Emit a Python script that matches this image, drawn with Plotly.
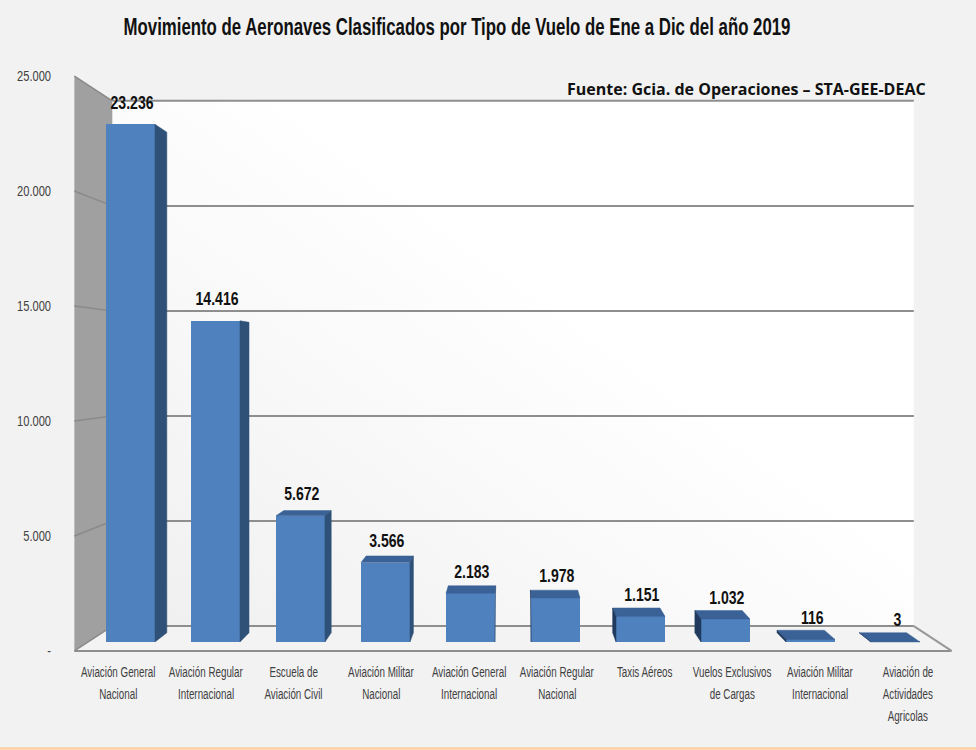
import base64
import plotly.graph_objects as go

# chart values
categories = [
    "Aviación General|Nacional", "Aviación Regular|Internacional", "Escuela de|Aviación Civil",
    "Aviación Militar|Nacional", "Aviación General|Internacional", "Aviación Regular|Nacional",
    "Taxis Aéreos", "Vuelos Exclusivos|de Cargas", "Aviación Militar|Internacional",
    "Aviación de|Actividades|Agricolas",
]
values = [23236, 14416, 5672, 3566, 2183, 1978, 1151, 1032, 116, 3]
value_labels = ["23.236", "14.416", "5.672", "3.566", "2.183", "1.978", "1.151", "1.032", "116", "3"]
tick_values = [0, 5000, 10000, 15000, 20000, 25000]
tick_labels = ["-", "5.000", "10.000", "15.000", "20.000", "25.000"]

title = "Movimiento de Aeronaves Clasificados por Tipo de Vuelo de Ene a Dic del año 2019"
source = "Fuente: Gcia. de Operaciones – STA-GEE-DEAC"

SANS = "Liberation Sans"
W, H = 976, 750
# plot rectangle in pixels
L, R, T, B = 60, 976, 60, 662
# bar plane: pixel = origin + scale * data
X0, XSTEP = 130.5, 85.0
Y0, YSCALE = 642.0, 557.0 / 25000
# vanishing point of the fake 3d, in data units of the bar plane
VX = (514 - X0) / XSTEP
VY = (Y0 - 363) / YSCALE
BAR_WIDTH = 0.576
S_BAR = 0.033
S_FRONT = -0.032
S_BACK = 0.057


def project(x, y, s):
    return x + s * (VX - x), y + s * (VY - y)


def paper_x(p):
    return (p - L) / (R - L)


def paper_y(p):
    return (B - p) / (B - T)


def line(p0, p1, color="#8e8e8e", width=2):
    return dict(type="line", xref="x", yref="y", layer="between",
                x0=p0[0], y0=p0[1], x1=p1[0], y1=p1[1],
                line=dict(color=color, width=width))


def poly(points, color):
    path = "M" + " L".join(f"{a},{b}" for a, b in points) + " Z"
    return dict(type="path", xref="x", yref="y", layer="between", path=path,
                fillcolor=color, line=dict(width=0))


XL, XR, YMAX = -0.5, 9.5, 25000
shapes = [
    dict(type="rect", xref="paper", yref="paper", layer="below",
         x0=paper_x(0), x1=paper_x(W), y0=paper_y(747), y1=paper_y(H),
         fillcolor="#fdd5b1", line=dict(width=0)),
    # side wall
    poly([project(XL, 0, S_FRONT), project(XL, YMAX, S_FRONT),
          project(XL, YMAX, S_BACK), project(XL, 0, S_BACK)], "#a0a0a0"),
    # floor
    poly([project(XL, 0, S_FRONT), project(XR, 0, S_FRONT),
          project(XR, 0, S_BACK), project(XL, 0, S_BACK)], "#f3f3f3"),
    line(project(XL, 0, S_FRONT), project(XR, 0, S_FRONT)),
    line(project(XR, 0, S_FRONT), project(XR, 0, S_BACK), color="#989898"),
]
for v in tick_values:
    shapes.append(line(project(XL, v, S_BACK), project(XR, v, S_BACK)))
    shapes.append(line(project(XL, v, S_FRONT), project(XL, v, S_BACK), color="#8a8a8a", width=1.5))

# soft gradient of the back wall
gradient = (
    '<svg xmlns="http://www.w3.org/2000/svg" width="800" height="526" preserveAspectRatio="none">'
    '<defs><linearGradient id="g" x1="0" y1="1" x2="1" y2="0.1">'
    '<stop offset="0" stop-color="#efefef"/><stop offset="0.62" stop-color="#ffffff"/>'
    '</linearGradient></defs><rect width="800" height="526" fill="url(#g)"/></svg>'
)
back_left, back_top = project(XL, YMAX, S_BACK)
back_right, back_bottom = project(XR, 0, S_BACK)
images = [dict(
    source="data:image/svg+xml;base64," + base64.b64encode(gradient.encode()).decode(),
    xref="x", yref="y", x=back_left, y=back_top,
    sizex=back_right - back_left, sizey=back_top - back_bottom,
    xanchor="left", yanchor="top", sizing="stretch", layer="below",
)]

fig = go.Figure()
positions = list(range(len(values)))
fig.add_trace(go.Bar(x=positions, y=values, width=BAR_WIDTH, marker=dict(color="#5081bf", line=dict(width=0))))


def add_face(points, color):
    xs = [p[0] for p in points] + [points[0][0]]
    ys = [p[1] for p in points] + [points[0][1]]
    fig.add_trace(go.Scatter(x=xs, y=ys, mode="lines", fill="toself", fillcolor=color,
                             line=dict(color=color, width=0.5), hoverinfo="skip"))


for x, v in zip(positions, values):
    left, right = x - BAR_WIDTH / 2, x + BAR_WIDTH / 2
    # top face only shows under the vanishing point
    if v < VY:
        add_face([(left, v), (right, v), project(right, v, S_BAR), project(left, v, S_BAR)], "#3a6296")
    if right < VX:
        add_face([(right, 0), (right, v), project(right, v, S_BAR), project(right, 0, S_BAR)], "#2f5178")
    elif left > VX:
        add_face([(left, 0), (left, v), project(left, v, S_BAR), project(left, 0, S_BAR)], "#1f3a5e")

# carries the tick labels of the front plane
fig.add_trace(go.Scatter(x=[XL] * len(tick_values), y=tick_values, yaxis="y2", mode="markers",
                         marker=dict(opacity=0), hoverinfo="skip"))

annotations = []
for x, v, text in zip(positions, values, value_labels):
    annotations.append(dict(x=x + 0.02, y=v, xref="x", yref="y", text=text, showarrow=False, yshift=22,
                            font=dict(family=SANS, size=19, weight=700, color="#111111"),
                            xanchor="center", yanchor="middle"))
for x, cat in zip(positions, categories):
    # category labels sit on the front edge of the floor
    label_x = project(x, 0, S_FRONT)[0]
    for n, part in enumerate(cat.split("|")):
        annotations.append(dict(x=label_x, y=paper_y(672 + 22 * n), xref="x", yref="paper", text=part,
                                showarrow=False, font=dict(family=SANS, size=14, color="#404040"),
                                xanchor="center", yanchor="middle"))
annotations.append(dict(x=paper_x(928), y=paper_y(89), xref="paper", yref="paper", text=source,
                        showarrow=False, font=dict(family="Open Sans", size=16, weight=700, color="#111111"),
                        xanchor="right", yanchor="middle"))

fig.update_layout(
    width=W, height=H,
    margin=dict(l=L, r=W - R, t=T, b=H - B, pad=0),
    paper_bgcolor="#f2f2f2", plot_bgcolor="rgba(0,0,0,0)",
    showlegend=False, bargap=0,
    title=dict(text=title, x=457 / W, y=1 - 27 / H, xanchor="center", yanchor="middle",
               font=dict(family=SANS, size=24, weight=700, color="#111111")),
    xaxis=dict(range=[(L - X0) / XSTEP, (R - X0) / XSTEP], visible=False, fixedrange=True),
    yaxis=dict(range=[(Y0 - B) / YSCALE, (Y0 - T) / YSCALE], visible=False, fixedrange=True),
    yaxis2=dict(range=[0, 25000], domain=[paper_y(651), paper_y(76)], anchor="free", position=0,
                side="left", tickmode="array", tickvals=tick_values, ticktext=tick_labels,
                showgrid=False, zeroline=False, showline=False, ticks="outside", ticklen=6,
                tickcolor="rgba(0,0,0,0)", tickfont=dict(family=SANS, size=15, color="#404040")),
    shapes=shapes, images=images, annotations=annotations,
)

# the original uses a condensed face, none is installed: squeeze the glyphs of the real text
squeeze = """
document.body.style.margin = '0';
function squeeze(sel, f) {
  document.querySelectorAll(sel).forEach(function (t) {
    if (t.style.fontFamily.indexOf('Liberation') < 0) return;
    var k = (typeof f === 'function') ? f(t) : f;
    t.setAttribute('textLength', t.getComputedTextLength() * k);
    t.setAttribute('lengthAdjust', 'spacingAndGlyphs');
  });
}
squeeze('.gtitle', 0.70);
squeeze('.y2tick text', 0.74);
squeeze('.annotation-text', function (t) { return parseFloat(t.style.fontSize) > 15 ? 0.74 : 0.70; });
"""
fig.write_html("out.html", post_script=squeeze, config=dict(displayModeBar=False))
